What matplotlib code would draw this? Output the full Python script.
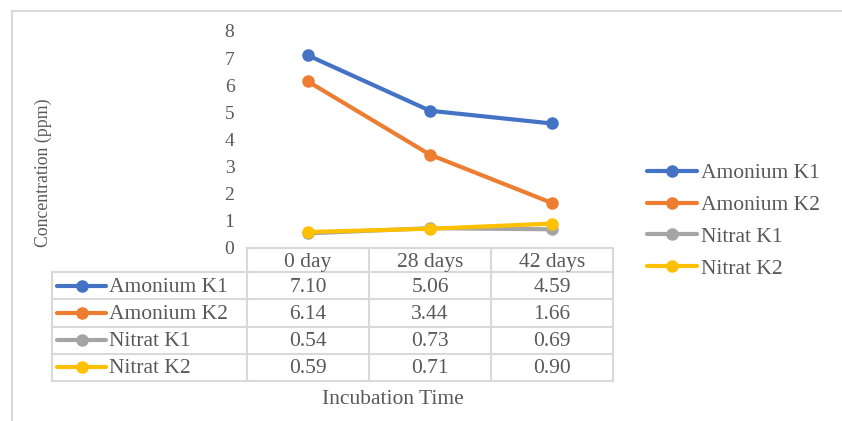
import numpy as np
import matplotlib.pyplot as plt

plt.rcParams['font.family'] = ['Liberation Serif', 'DejaVu Serif']

# data
days = ['0 day', '28 days', '42 days']
series = ['Amonium K1', 'Amonium K2', 'Nitrat K1', 'Nitrat K2']
amonium_k1 = [7.10, 5.06, 4.59]
amonium_k2 = [6.14, 3.44, 1.66]
nitrat_k1 = [0.54, 0.73, 0.69]
nitrat_k2 = [0.59, 0.71, 0.90]
values = [amonium_k1, amonium_k2, nitrat_k1, nitrat_k2]
colors = ['#4472C4', '#ED7D31', '#A5A5A5', '#FFC000']
yticks = [0, 1, 2, 3, 4, 5, 6, 7, 8]

W, H = 842, 421
txt = '#595959'
grid = '#D9D9D9'
fs = 15.5

fig = plt.figure(figsize=(W / 100, H / 100), dpi=100)

# overlay in pixel coords for frame and table
ov = fig.add_axes([0, 0, 1, 1])
ov.set_xlim(0, W)
ov.set_ylim(H, 0)
ov.axis('off')

ax = fig.add_axes([247 / W, 1 - 248 / H, (613 - 247) / W, (248 - 31) / H])
ax.set_facecolor('none')
x = np.arange(len(days))
for name, vals, c in zip(series, values, colors):
    ax.plot(x, vals, color=c, lw=3, marker='o', ms=8, solid_capstyle='round', label=name)
ax.set_xlim(-0.5, len(days) - 0.5)
ax.set_ylim(0, 8)
ax.set_yticks(yticks)
ax.set_yticklabels([str(t) for t in yticks], fontsize=14, color=txt)
ax.set_xticks([])
ax.tick_params(axis='y', length=0, pad=9)
for s in ax.spines.values():
    s.set_visible(False)
ax.set_ylabel('Concentration (ppm)', fontsize=12.8, color=txt, labelpad=0)
ax.yaxis.set_label_coords((52 - 247) / (613 - 247), (248 - 173) / (248 - 31))

leg = ax.legend(loc='center left', bbox_to_anchor=(647 / W, 1 - 221 / H),
                bbox_transform=fig.transFigure, frameon=False, fontsize=fs,
                handlelength=2.3, labelspacing=0.55, handletextpad=0.2,
                borderpad=0, borderaxespad=0, labelcolor=txt)

# frame of the chart area
ov.plot([12, W], [11, 11], color=grid, lw=1.5)
ov.plot([12, 12], [11, H], color=grid, lw=1.5)

# data table
fig.canvas.draw()
to_px = lambda xd: ax.transData.transform((xd, 0))[0]
edges = [to_px(i - 0.5) for i in range(len(days) + 1)]
centers = [to_px(i) for i in x]
tab_left = 52
head_top, head_bot = 248, 272
row_h = (381 - 272) / len(series)
rows_y = [head_bot + i * row_h for i in range(len(series) + 1)]
lw = 1.5

# header
ov.plot([edges[0], edges[-1]], [head_top, head_top], color=grid, lw=lw)
for e in edges:
    ov.plot([e, e], [head_top, rows_y[-1]], color=grid, lw=lw)
for d, cx in zip(days, centers):
    ov.text(cx, (head_top + head_bot) / 2 + 2, d, ha='center', va='center', fontsize=fs, color=txt)
# body rows
for y in rows_y:
    ov.plot([tab_left, edges[-1]], [y, y], color=grid, lw=lw)
ov.plot([tab_left, tab_left], [rows_y[0], rows_y[-1]], color=grid, lw=lw)
for i, (name, vals, c) in enumerate(zip(series, values, colors)):
    yc = (rows_y[i] + rows_y[i + 1]) / 2
    ov.plot([57, 106], [yc, yc], color=c, lw=3, solid_capstyle='round')
    ov.plot([81.5], [yc], color=c, marker='o', ms=8)
    ov.text(109, yc + 1.5, name, ha='left', va='center', fontsize=fs, color=txt)
    for v, cx in zip(vals, centers):
        ov.text(cx, yc + 1.5, f'{v:.2f}', ha='center', va='center', fontsize=fs, color=txt)

ov.text(393, 399, 'Incubation Time', ha='center', va='center', fontsize=fs, color=txt)

fig.savefig('out.png', dpi=100)
